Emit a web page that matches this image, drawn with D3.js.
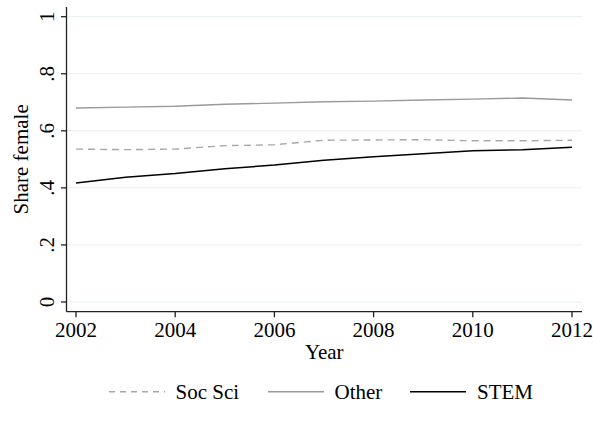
<!DOCTYPE html>
<html>
<head>
<meta charset="utf-8">
<script src="https://cdn.jsdelivr.net/npm/d3@7"></script>
<style>
  body { margin: 0; background: #fff; }
  svg { display: block; }
</style>
</head>
<body>
<svg id="chart" width="593" height="423"></svg>
<script>
// Share of female students by field, 2002-2012
const years = [2002, 2003, 2004, 2005, 2006, 2007, 2008, 2009, 2010, 2011, 2012];
const socSci = [0.536, 0.534, 0.536, 0.548, 0.551, 0.567, 0.568, 0.569, 0.565, 0.565, 0.567];
const other  = [0.680, 0.683, 0.686, 0.693, 0.697, 0.702, 0.704, 0.708, 0.711, 0.715, 0.708];
const stem   = [0.417, 0.437, 0.450, 0.467, 0.480, 0.497, 0.509, 0.520, 0.530, 0.534, 0.542];
const xTicks = [2002, 2004, 2006, 2008, 2010, 2012];
const yTicks = [0, 0.2, 0.4, 0.6, 0.8, 1];
const yTickLabels = ["0", ".2", ".4", ".6", ".8", "1"];

const series = [
  { name: "Soc Sci", values: socSci, color: "#a8a8a8", dash: "7,5", width: 1.4 },
  { name: "Other",   values: other,  color: "#9a9a9a", dash: null,  width: 1.4 },
  { name: "STEM",    values: stem,   color: "#000000", dash: null,  width: 1.5 }
];

const FONT = "'Liberation Serif', 'Times New Roman', Times, serif";
const svg = d3.select("#chart")
  .attr("font-family", FONT)
  .style("font-family", FONT);
const frame = { left: 66.5, right: 582, top: 7, bottom: 311.7 };

const x = d3.scaleLinear().domain([2002, 2012]).range([76, 572]);
const y = d3.scaleLinear().domain([0, 1]).range([302, 16.7]);

// every label uses the same serif face and size
function label(sel) {
  return sel.attr("font-family", FONT).style("font-family", FONT)
    .attr("font-size", 21).attr("fill", "#000");
}

// horizontal grid
svg.append("g").selectAll("line").data(yTicks).join("line")
  .attr("x1", frame.left).attr("x2", frame.right)
  .attr("y1", d => y(d)).attr("y2", d => y(d))
  .attr("stroke", "#e6eff1").attr("stroke-width", 1);

// series lines
const line = d3.line().x((d, i) => x(years[i])).y(d => y(d));
svg.append("g").selectAll("path").data(series).join("path")
  .attr("d", d => line(d.values))
  .attr("fill", "none")
  .attr("stroke", d => d.color)
  .attr("stroke-width", d => d.width)
  .attr("stroke-dasharray", d => d.dash);

// y axis
const yAxis = svg.append("g").attr("transform", `translate(${frame.left},0)`);
yAxis.append("line")
  .attr("x1", 0).attr("x2", 0).attr("y1", frame.top).attr("y2", frame.bottom)
  .attr("stroke", "#222").attr("stroke-width", 1.3);
yAxis.selectAll("line.tick").data(yTicks).join("line").attr("class", "tick")
  .attr("x1", -5.5).attr("x2", 0).attr("y1", d => y(d)).attr("y2", d => y(d))
  .attr("stroke", "#222").attr("stroke-width", 1.3);
yAxis.selectAll("text").data(yTicks).join("text")
  .attr("transform", d => `translate(${53.5 - frame.left},${y(d)}) rotate(-90)`)
  .attr("text-anchor", "middle")
  .call(label)
  .text((d, i) => yTickLabels[i]);

// x axis
const xAxis = svg.append("g").attr("transform", `translate(0,${frame.bottom})`);
xAxis.append("line")
  .attr("x1", frame.left).attr("x2", frame.right).attr("y1", 0).attr("y2", 0)
  .attr("stroke", "#222").attr("stroke-width", 1.3);
xAxis.selectAll("line.tick").data(xTicks).join("line").attr("class", "tick")
  .attr("x1", d => x(d)).attr("x2", d => x(d)).attr("y1", 0).attr("y2", 5.5)
  .attr("stroke", "#222").attr("stroke-width", 1.3);
xAxis.selectAll("text").data(xTicks).join("text")
  .attr("x", d => x(d)).attr("y", 336.7 - frame.bottom)
  .attr("text-anchor", "middle")
  .call(label)
  .text(d => d);

// axis titles
svg.append("text")
  .attr("x", (frame.left + frame.right) / 2).attr("y", 359.3)
  .attr("text-anchor", "middle")
  .call(label)
  .text("Year");
svg.append("text")
  .attr("transform", `translate(28.3,${(y(0) + y(1)) / 2}) rotate(-90)`)
  .attr("text-anchor", "middle")
  .call(label)
  .text("Share female");

// legend
const legendItems = [
  { s: series[0], x1: 109, x2: 165, tx: 175.5 },
  { s: series[1], x1: 268, x2: 324, tx: 334.5 },
  { s: series[2], x1: 410, x2: 466, tx: 477 }
];
const legend = svg.append("g");
legend.selectAll("line").data(legendItems).join("line")
  .attr("x1", d => d.x1).attr("x2", d => d.x2)
  .attr("y1", 391.7).attr("y2", 391.7)
  .attr("stroke", d => d.s.color)
  .attr("stroke-width", d => d.s.width)
  .attr("stroke-dasharray", d => d.s.dash ? "6,5" : null);
legend.selectAll("text").data(legendItems).join("text")
  .attr("x", d => d.tx).attr("y", 399.3)
  .call(label)
  .text(d => d.s.name);
</script>
</body>
</html>
